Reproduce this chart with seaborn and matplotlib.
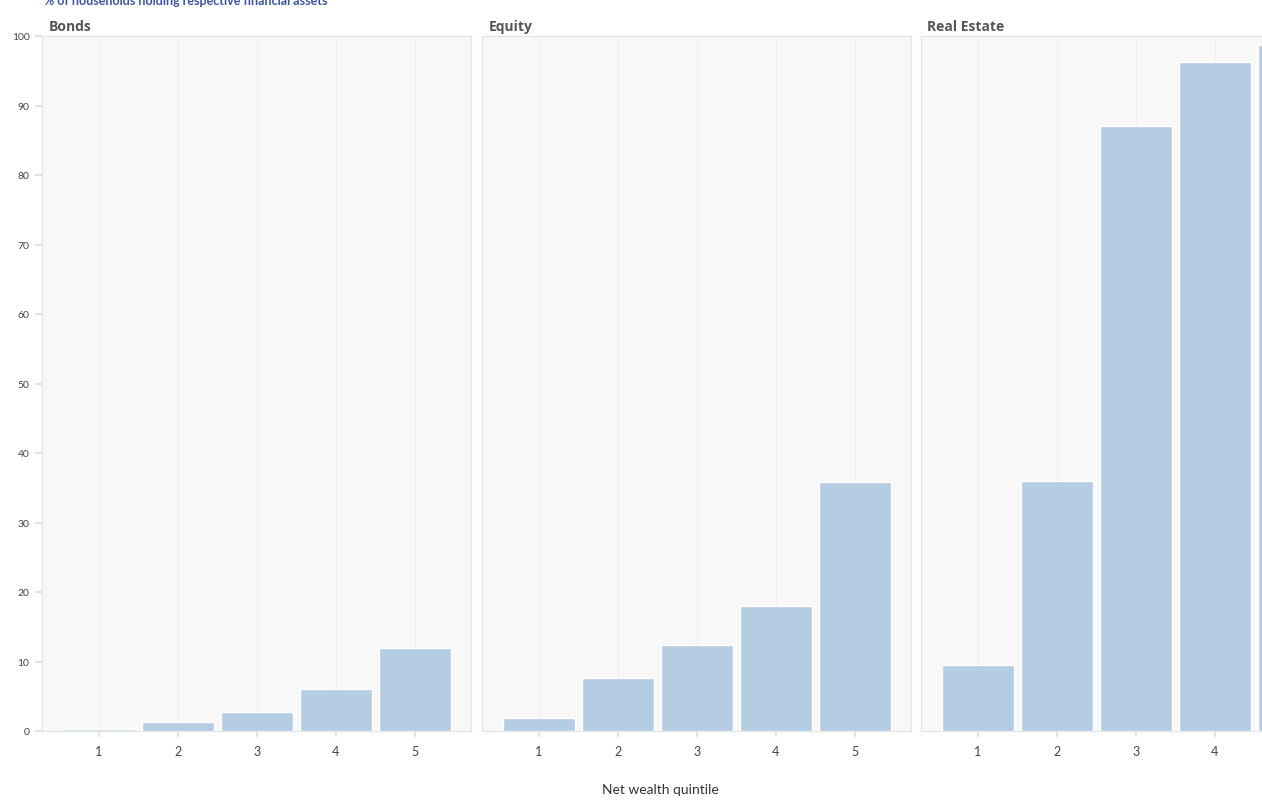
import numpy as np
import pandas as pd
import matplotlib
matplotlib.use("Agg")
import matplotlib.pyplot as plt
import seaborn as sns

# values (% of households holding the asset)
quintiles = ["1", "2", "3", "4", "5"]
assets = ["Bonds", "Equity", "Real Estate"]
bonds = [0.3, 1.3, 2.7, 6.0, 11.9]
equity = [1.9, 7.6, 12.4, 18.0, 35.8]
real_estate = [9.5, 36.0, 87.0, 96.3, 98.7]
y_ticks = [0, 10, 20, 30, 40, 50, 60, 70, 80, 90, 100]

df = pd.DataFrame({
    "asset": np.repeat(assets, len(quintiles)),
    "quintile": quintiles * len(assets),
    "share": bonds + equity + real_estate,
})

sns.set_theme(style="white")
plt.rcParams["font.family"] = ["Lato", "DejaVu Sans"]

W, H = 1262, 803
fig = plt.figure(figsize=(W / 100, H / 100), dpi=100)

bar_color = "#b4cde2"
lefts = [42, 482, 921]
ax_w = 429
bottom_px, top_px = 732, 37

axes = []
for i, asset in enumerate(assets):
    ax = fig.add_axes([lefts[i] / W, (H - bottom_px) / H, ax_w / W, (bottom_px - top_px) / H])
    ax.set_facecolor("#f8f8f8")
    sub = df[df["asset"] == asset]
    sns.barplot(data=sub, x="quintile", y="share", order=quintiles, color=bar_color,
                width=0.91, saturation=1, ax=ax, zorder=3)
    ax.set_xlim(-0.72, 4.71)
    ax.set_ylim(0, 100)
    ax.set_xlabel("")
    ax.set_ylabel("")
    for x in range(len(quintiles)):
        ax.axvline(x, color="#eeeeee", lw=0.8, zorder=1)
    for sp in ax.spines.values():
        sp.set_color("#e6e6e6")
        sp.set_linewidth(1.0)
    ax.tick_params(axis="x", bottom=True, length=4, color="#dddddd", labelsize=9,
                   labelcolor="#444444", pad=6)
    if i == 0:
        ax.set_yticks(y_ticks)
        ax.tick_params(axis="y", left=True, length=5, color="#dddddd", labelsize=7.5,
                       labelcolor="#444444", pad=4)
    else:
        ax.set_yticks([])
    ax.text(0.015, 1.004, asset, transform=ax.transAxes, ha="left", va="bottom",
            fontsize=10, fontweight="bold", color="#555555", family=["Open Sans", "DejaVu Sans"])
    axes.append(ax)

fig.text(660 / W, 1 - 790 / H, "Net wealth quintile", ha="center", va="center",
         fontsize=10, color="#333333")
fig.text(44 / W, 1 - 1 / H, "% of households holding respective financial assets",
         ha="left", va="center", fontsize=9, fontweight="bold", color="#3a56a0")

fig.savefig("out.png", dpi=100)
